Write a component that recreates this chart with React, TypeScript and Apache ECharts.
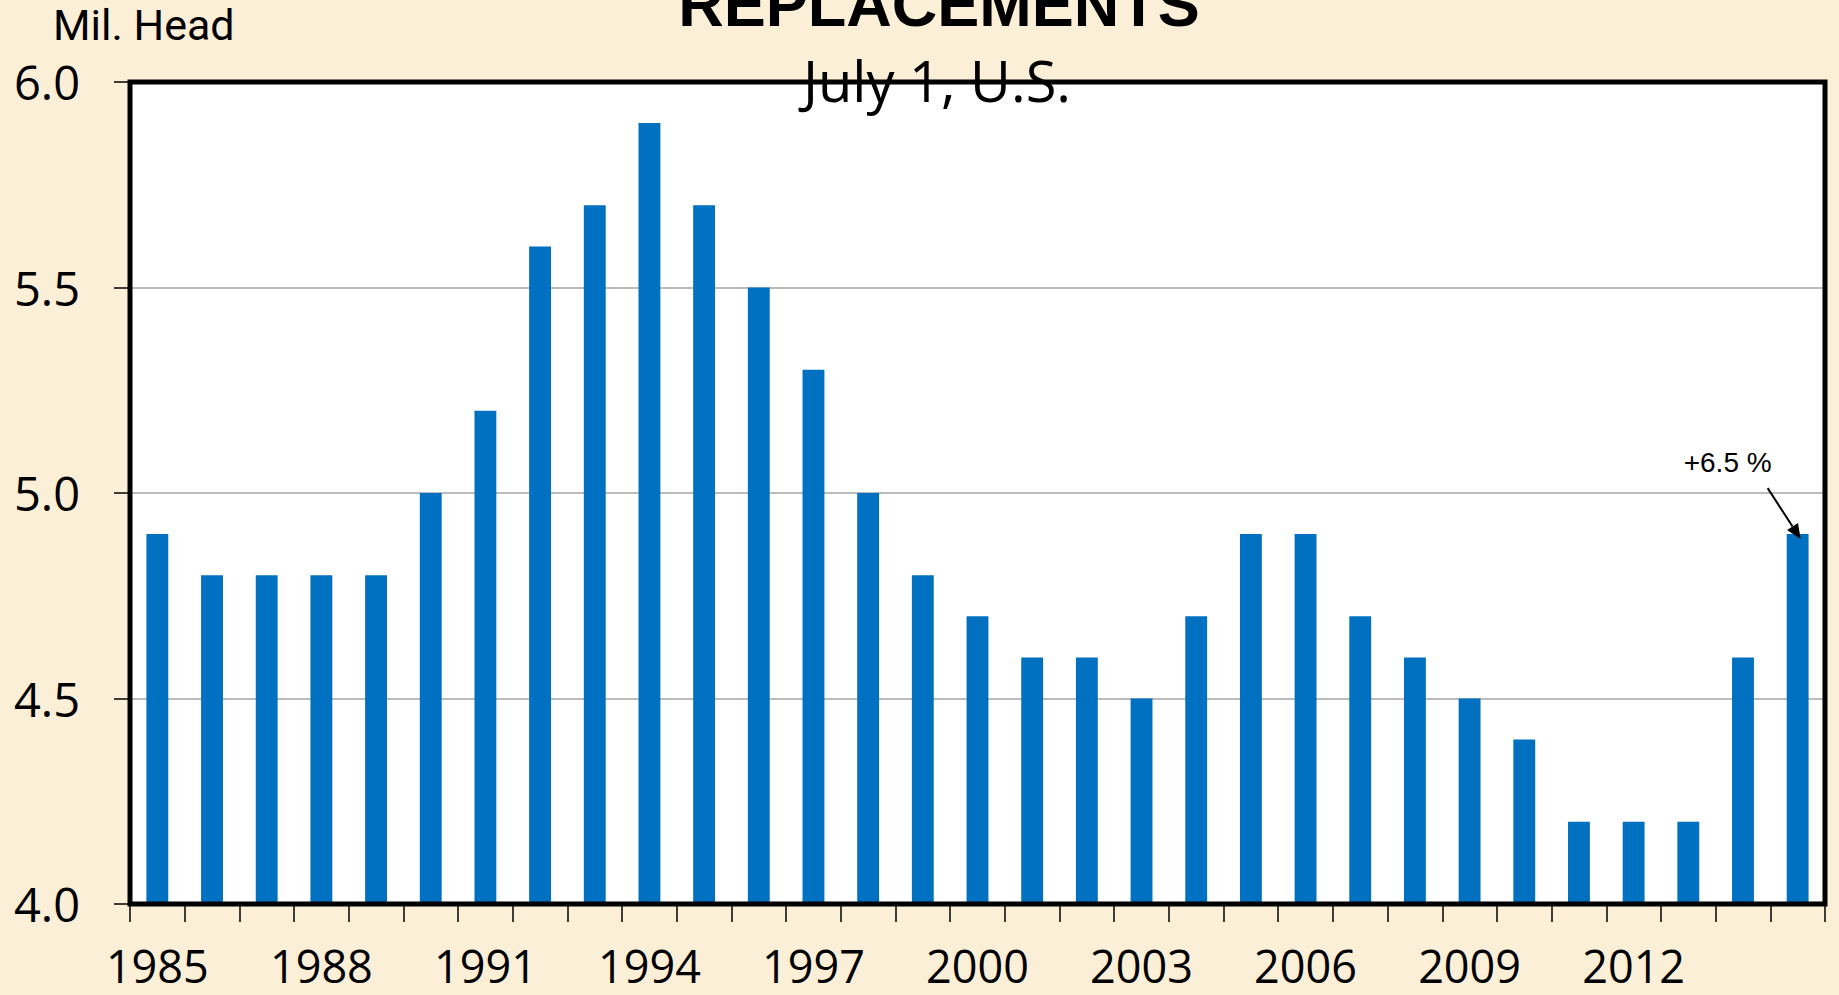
import React, { useEffect, useRef } from 'react';
import * as echarts from 'echarts';

const years = [
  '1985', '1986', '1987', '1988', '1989', '1990', '1991', '1992', '1993', '1994',
  '1995', '1996', '1997', '1998', '1999', '2000', '2001', '2002', '2003', '2004',
  '2005', '2006', '2007', '2008', '2009', '2010', '2011', '2012', '2013', '2014', '2015',
];
const replacements = [
  4.9, 4.8, 4.8, 4.8, 4.8, 5.0, 5.2, 5.6, 5.7, 5.9,
  5.7, 5.5, 5.3, 5.0, 4.8, 4.7, 4.6, 4.6, 4.5, 4.7,
  4.9, 4.9, 4.7, 4.6, 4.5, 4.4, 4.2, 4.2, 4.2, 4.6, 4.9,
];
const yMin = 4.0;
const yMax = 6.0;
const yStep = 0.5;
const titleText = 'REPLACEMENTS';
const subtitleText = 'July 1, U.S.';
const unitText = 'Mil. Head';
const noteText = '+6.5 %';

const W = 1839;
const H = 995;
const G = { left: 130, right: 14, top: 82, bottom: 91 };
const FONT = '"Open Sans", "Noto Sans", sans-serif';

export default function App() {
  const ref = useRef<HTMLDivElement>(null);
  useEffect(() => {
    document.body.style.margin = '0';
    const chart = echarts.init(ref.current as HTMLDivElement, null, { renderer: 'svg' });
    chart.setOption({
      animation: false,
      backgroundColor: '#FCEFD7',
      grid: {
        left: G.left, right: G.right, top: G.top, bottom: G.bottom,
        show: true, backgroundColor: '#ffffff', borderWidth: 0,
      },
      xAxis: {
        type: 'category',
        data: years,
        boundaryGap: true,
        axisLine: { show: false },
        axisTick: { show: true, interval: 0, length: 18, lineStyle: { color: '#000', width: 1.5 } },
        axisLabel: {
          interval: (i: number) => i % 3 === 0 && i < years.length - 1,
          fontSize: 45, lineHeight: 48, color: '#000', fontFamily: FONT, margin: 37,
        },
        splitLine: { show: false },
      },
      yAxis: {
        type: 'value',
        min: yMin, max: yMax, interval: yStep,
        axisLine: { show: false },
        axisTick: { show: true, length: 16, lineStyle: { color: '#000', width: 1.5 } },
        axisLabel: {
          formatter: (v: number) => v.toFixed(1),
          fontSize: 47, color: '#000', fontFamily: FONT, margin: 50,
        },
        splitLine: { show: true, lineStyle: { color: '#a6a6a6', width: 1.5 } },
      },
      series: [
        {
          type: 'bar',
          data: replacements,
          barWidth: '40%',
          itemStyle: { color: '#0070C0' },
        },
      ],
    });

    const last = years.length - 1;
    const p = chart.convertToPixel({ xAxisIndex: 0, yAxisIndex: 0 }, [years[last], replacements[last]]) as number[];
    const tip = [p[0] + 3, p[1] + 5];
    const start = [tip[0] - 33, tip[1] - 51];
    const dx = tip[0] - start[0];
    const dy = tip[1] - start[1];
    const len = Math.sqrt(dx * dx + dy * dy);
    const ux = dx / len, uy = dy / len;
    const headL = 15, headW = 6.5;
    const base = [tip[0] - headL * ux, tip[1] - headL * uy];
    const px = -uy, py = ux;

    chart.setOption({
      graphic: [
        {
          type: 'rect', z: 50, silent: true,
          shape: { x: G.left, y: G.top, width: W - G.left - G.right, height: H - G.top - G.bottom },
          style: { fill: 'none', stroke: '#000', lineWidth: 5 },
        },
        {
          type: 'text', z: 60, x: 939, y: 4,
          style: { text: titleText, font: 'bold 63px "Liberation Sans", Arial, sans-serif', fill: '#000', align: 'center', verticalAlign: 'middle' },
        },
        {
          type: 'text', z: 60, x: 937, y: 80,
          style: { text: subtitleText, font: `56px ${FONT}`, fill: '#000', align: 'center', verticalAlign: 'middle' },
        },
        {
          type: 'text', z: 60, x: 53, y: 25,
          style: { text: unitText, font: '43px Roboto, "Open Sans", sans-serif', lineHeight: 44, fill: '#000', align: 'left', verticalAlign: 'middle' },
        },
        {
          type: 'text', z: 60, x: tip[0] - 73, y: tip[1] - 77,
          style: { text: noteText, font: '28px "Liberation Sans", Arial, sans-serif', fill: '#000', align: 'center', verticalAlign: 'middle' },
        },
        {
          type: 'line', z: 60,
          shape: { x1: start[0], y1: start[1], x2: base[0], y2: base[1] },
          style: { stroke: '#000', lineWidth: 2 },
        },
        {
          type: 'polygon', z: 60,
          shape: { points: [[tip[0], tip[1]], [base[0] + headW * px, base[1] + headW * py], [base[0] - headW * px, base[1] - headW * py]] },
          style: { fill: '#000' },
        },
      ],
    });
    return () => chart.dispose();
  }, []);
  return <div ref={ref} style={{ position: 'absolute', left: 0, top: 0, width: W, height: H }} />;
}
